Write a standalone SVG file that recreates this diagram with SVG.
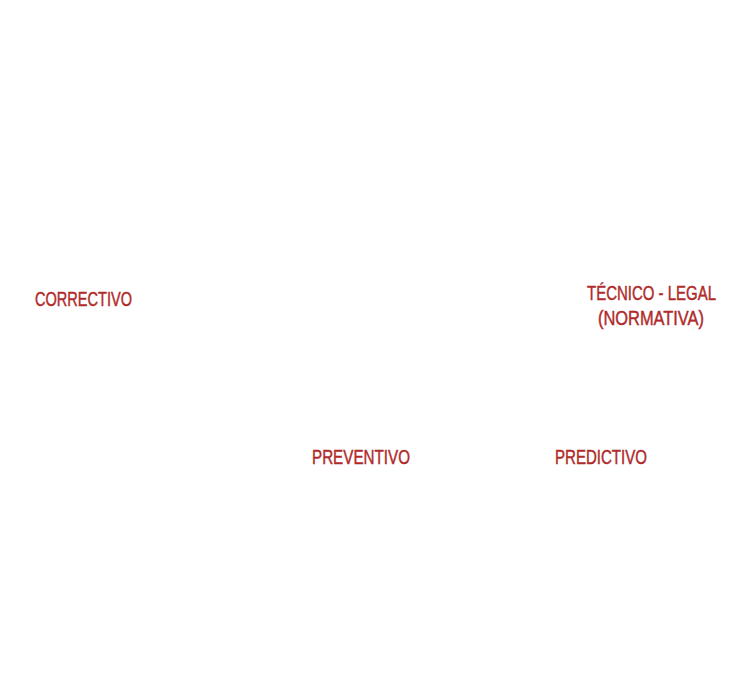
<svg xmlns="http://www.w3.org/2000/svg" width="743" height="679" viewBox="0 0 743 679">
<style>
.lbl{font-family:"Liberation Sans Narrow","Liberation Sans",Arial,sans-serif;font-size:20px;fill:#b02a2a;stroke:#b02a2a;stroke-width:0.45px;}
</style>
<rect width="743" height="679" fill="#ffffff"/>
<g id="connectors"></g>
<g id="correctivo"><text class="lbl" x="35" y="305.5" textLength="97" lengthAdjust="spacingAndGlyphs">CORRECTIVO</text></g>
<g id="tecnico-legal">
<text class="lbl" x="587" y="299.5" textLength="129" lengthAdjust="spacingAndGlyphs">TÉCNICO - LEGAL</text>
<text class="lbl" x="598" y="324.5" textLength="106" lengthAdjust="spacingAndGlyphs">(NORMATIVA)</text>
</g>
<g id="preventivo"><text class="lbl" x="312" y="463.5" textLength="98" lengthAdjust="spacingAndGlyphs">PREVENTIVO</text></g>
<g id="predictivo"><text class="lbl" x="555" y="463.5" textLength="92" lengthAdjust="spacingAndGlyphs">PREDICTIVO</text></g>
</svg>
